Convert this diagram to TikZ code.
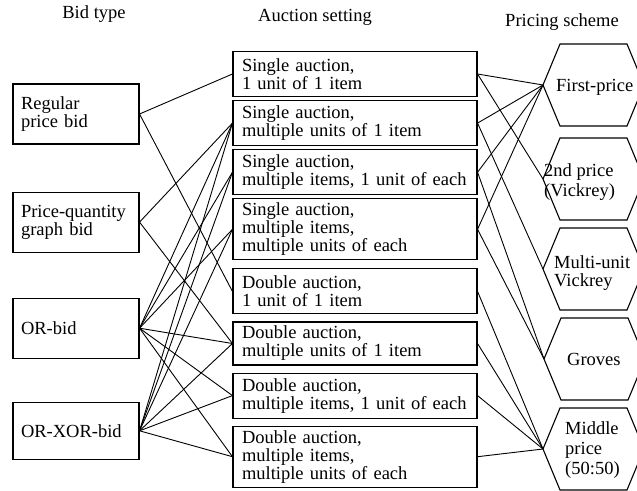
\documentclass[tikz,border=0pt]{standalone}
\usepackage{fontspec}
\setmainfont{Liberation Serif}
\usetikzlibrary{positioning}

\begin{document}
\begin{tikzpicture}[
    x=1pt, y=-1pt,
    font=\fontsize{18.5}{18}\selectfont,
    node distance=0mm,
    bidbox/.style={draw, line width=1.1pt, text width=110pt, inner xsep=8pt, inner ysep=2pt, minimum height=60pt, align=left},
    setbox/.style={draw, line width=1.1pt, text width=226pt, inner xsep=9pt, inner ysep=2pt, minimum height=45pt, align=left},
    hexa/.style={draw, line width=1.1pt},
    hexlabel/.style={anchor=west, inner sep=0pt, align=left},
    heading/.style={inner sep=0pt},
    link/.style={line width=0.9pt}
]
\useasboundingbox (0,0) rectangle (637,490);
\clip (0,0) rectangle (637,490);

% column headings
\node[heading] (hbid) at (94,14) {Bid type};
\node[heading] (hset) at (315,17) {Auction setting};
\node[heading] (hpri) at (562,22) {Pricing scheme};

% bid types
\node[bidbox] (reg) at (76,114) {Regular\\price bid};
\node[bidbox, below=47pt of reg] (pqg) {Price-quantity\\graph bid};
\node[bidbox, below=45pt of pqg] (orb) {OR-bid};
\node[bidbox, below=43pt of orb, minimum height=57pt] (orx) {OR-XOR-bid};

% auction settings
\node[setbox] (sa1) at (355,74) {Single auction,\\1 unit of 1 item};
\node[setbox, below=3pt of sa1] (sa2) {Single auction,\\multiple units of 1 item};
\node[setbox, below=3pt of sa2] (sa3) {Single auction,\\multiple items, 1 unit of each};
\node[setbox, below=3pt of sa3, minimum height=61pt] (sa4) {Single auction,\\multiple items,\\multiple units of each};
\node[setbox, below=8pt of sa4] (da1) {Double auction,\\1 unit of 1 item};
\node[setbox, below=7pt of da1, minimum height=43pt] (da2) {Double auction,\\multiple units of 1 item};
\node[setbox, below=7pt of da2] (da3) {Double auction,\\multiple items, 1 unit of each};
\node[setbox, below=7pt of da3, minimum height=61pt] (da4) {Double auction,\\multiple items,\\multiple units of each};

% pricing schemes
\coordinate (fp) at (543,85);
\coordinate (vick) at (543,179);
\coordinate (muv) at (543,269);
\coordinate (grv) at (544,359);
\coordinate (mid) at (543,449);
\draw[hexa] (fp) -- ++(17,-41) -- ++(67,0) -- ++(17,41) -- ++(-17,41) -- ++(-67,0) -- cycle;
\draw[hexa] (vick) -- ++(17,-41) -- ++(67,0) -- ++(17,41) -- ++(-17,41) -- ++(-67,0) -- cycle;
\draw[hexa] (muv) -- ++(17,-41) -- ++(67,0) -- ++(17,41) -- ++(-17,41) -- ++(-67,0) -- cycle;
\draw[hexa] (grv) -- ++(17,-41) -- ++(67,0) -- ++(17,41) -- ++(-17,41) -- ++(-67,0) -- cycle;
\draw[hexa] (mid) -- ++(17,-41) -- ++(67,0) -- ++(17,41) -- ++(-17,41) -- ++(-67,0) -- cycle;
\node[hexlabel] (fptext) at (556,87) {First-price};
\node[hexlabel, font=\fontsize{18.5}{20}\selectfont] (vicktext) at (544,182) {2nd price\\(Vickrey)};
\node[hexlabel] (muvtext) at (554,273) {Multi-unit\\Vickrey};
\node[hexlabel] (grvtext) at (567,359) {Groves};
\node[hexlabel, font=\fontsize{18.5}{20}\selectfont] (midtext) at (565,450) {Middle\\price\\(50:50)};

% bid type -> auction setting
\draw[link] (reg.east) -- (sa1.west);
\draw[link] (reg.east) -- (da1.west);
\draw[link] (pqg.east) -- (sa2.west);
\draw[link] (pqg.east) -- (da2.west);
\draw[link] (orb.east) -- (sa2.west);
\draw[link] (orb.east) -- (sa3.west);
\draw[link] (orb.east) -- (sa4.west);
\draw[link] (orb.east) -- (da2.west);
\draw[link] (orb.east) -- (da3.west);
\draw[link] (orb.east) -- (da4.west);
\draw[link] (orx.east) -- (sa2.west);
\draw[link] (orx.east) -- (sa3.west);
\draw[link] (orx.east) -- (sa4.west);
\draw[link] (orx.east) -- (da2.west);
\draw[link] (orx.east) -- (da3.west);
\draw[link] (orx.east) -- (da4.west);

% auction setting -> pricing scheme
\draw[link] (sa1.east) -- (fp);
\draw[link] (sa1.east) -- (vick);
\draw[link] (sa2.east) -- (fp);
\draw[link] (sa2.east) -- (muv);
\draw[link] (sa3.east) -- (fp);
\draw[link] (sa3.east) -- (grv);
\draw[link] (sa4.east) -- (fp);
\draw[link] (sa4.east) -- (grv);
\draw[link] (da1.east) -- (mid);
\draw[link] (da2.east) -- (mid);
\draw[link] (da3.east) -- (mid);
\draw[link] (da4.east) -- (mid);
\end{tikzpicture}
\end{document}
